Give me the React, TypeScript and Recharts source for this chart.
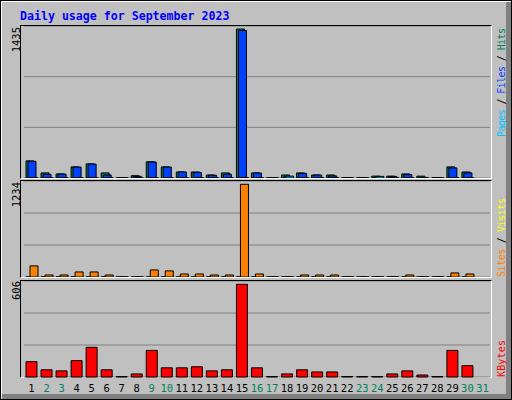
import React from "react"
import { BarChart, Bar, XAxis, YAxis, CartesianGrid } from "recharts"

// daily figures (day 31 has no data yet)
const days = ["1", "2", "3", "4", "5", "6", "7", "8", "9", "10", "11", "12", "13", "14", "15", "16", "17", "18", "19", "20", "21", "22", "23", "24", "25", "26", "27", "28", "29", "30", "31"]
// days drawn in green on the axis
const weekendDays = ["2", "3", "9", "10", "16", "17", "23", "24", "30", "31"]

const hits = [165, 49, 39, 107, 136, 49, 3, 22, 156, 107, 58, 58, 29, 49, 1435, 49, 3, 29, 49, 29, 29, 3, 3, 18, 18, 39, 18, 3, 107, 58, null]
const files = [160, 36, 38, 105, 134, 29, 2, 16, 154, 105, 58, 53, 27, 36, 1420, 48, 2, 10, 44, 29, 20, 2, 2, 4, 15, 33, 6, 2, 97, 49, null]
const pages = [3, 3, 3, 3, 3, 3, 2, 3, 3, 3, 3, 3, 3, 3, 5, 3, 2, 18, 3, 3, 3, 2, 2, 16, 3, 3, 3, 2, 3, 3, null]

const visits = [2, 2, 2, 2, 2, 2, 2, 2, 2, 2, 2, 2, 2, 2, 2, 2, 2, 2, 2, 2, 2, 2, 2, 2, 2, 2, 2, 2, 2, 2, null]
const sites = [148, 27, 27, 67, 67, 27, 3, 3, 94, 81, 40, 40, 27, 27, 1234, 40, 3, 3, 27, 27, 27, 3, 3, 3, 3, 27, 3, 3, 54, 40, null]

const kbytes = [100, 47, 40, 107, 194, 47, 3, 20, 174, 60, 60, 67, 40, 47, 606, 60, 3, 20, 47, 33, 33, 3, 3, 3, 20, 40, 13, 3, 174, 74, null]

const maxHits = 1435
const maxSites = 1234
const maxKbytes = 606

const data = days.map((day, i) => ({
    day,
    hits: hits[i],
    files: files[i],
    pages: pages[i],
    visits: visits[i],
    sites: sites[i],
    kbytes: kbytes[i]
}))

const FONT = "DejaVu Sans Mono"
const margin = { top: 0, right: 1, left: 3, bottom: 0 }

// the bars top out a little under the frame
const top1 = maxHits * 152 / 149
const top2 = maxSites * 96 / 92.7
const top3 = maxKbytes * 96 / 92.7

const DayTick = (props: any) => {
    const { x, y, payload } = props
    const weekend = weekendDays.includes(payload.value)
    return (
        <text x={x} y={y + 15} textAnchor="middle" fontFamily={FONT} fontSize={10.5} fill={weekend ? "#00805C" : "#000"}>
            {payload.value}
        </text>
    )
}

const Box = ({ top, height }: { top: number; height: number }) => (
    <div
        style={{
            position: "absolute",
            left: 20,
            top,
            width: 472,
            height,
            boxSizing: "border-box",
            borderTop: "1px solid #000",
            borderLeft: "1px solid #000",
            borderRight: "1px solid #fff",
            borderBottom: "1px solid #fff"
        }}
    />
)

export default function App() {
    return (
        <div style={{ position: "absolute", left: 0, top: 0, width: 512, height: 400, background: "#C0C0C0", overflow: "hidden" }}>
            <div
                style={{
                    position: "absolute",
                    left: 0,
                    top: 0,
                    width: 512,
                    height: 400,
                    boxSizing: "border-box",
                    border: "1px solid #000",
                    boxShadow: "inset 1px 1px 0 #fff, inset -5px -5px 0 #808080"
                }}
            />

            <Box top={25} height={154} />
            <Box top={180} height={98} />
            <Box top={280} height={98} />

            <div style={{ position: "absolute", left: 21, top: 26 }}>
                <BarChart width={470} height={152} data={data} margin={margin} barGap={-6}>
                    <CartesianGrid vertical={false} stroke="#808080" />
                    <XAxis dataKey="day" hide />
                    <YAxis hide type="number" domain={[0, top1]} ticks={[top1 / 3, (top1 * 2) / 3]} />
                    <Bar dataKey="hits" barSize={8} fill="#00805C" stroke="#000" isAnimationActive={false} />
                    <Bar dataKey="files" barSize={8} fill="#0040FF" stroke="#000" isAnimationActive={false} />
                    <Bar dataKey="pages" barSize={8} fill="#00C0FF" stroke="#000" isAnimationActive={false} />
                </BarChart>
            </div>

            <div style={{ position: "absolute", left: 21, top: 181 }}>
                <BarChart width={470} height={96} data={data} margin={margin} barGap={-4}>
                    <CartesianGrid vertical={false} stroke="#808080" />
                    <XAxis dataKey="day" hide />
                    <YAxis hide type="number" domain={[0, top2]} ticks={[top2 / 3, (top2 * 2) / 3]} />
                    <Bar dataKey="visits" barSize={8} fill="#FFFF00" stroke="#000" isAnimationActive={false} />
                    <Bar dataKey="sites" barSize={8} fill="#FF8000" stroke="#000" isAnimationActive={false} />
                </BarChart>
            </div>

            <div style={{ position: "absolute", left: 21, top: 281 }}>
                <BarChart width={470} height={116} data={data} margin={margin}>
                    <CartesianGrid vertical={false} stroke="#808080" />
                    <XAxis dataKey="day" height={20} interval={0} tickSize={0} tickMargin={0} axisLine={false} tickLine={false} tick={<DayTick />} />
                    <YAxis hide type="number" domain={[0, top3]} ticks={[top3 / 3, (top3 * 2) / 3]} />
                    <Bar dataKey="kbytes" barSize={11} fill="#FF0000" stroke="#000" isAnimationActive={false} />
                </BarChart>
            </div>

            <svg width={512} height={400} style={{ position: "absolute", left: 0, top: 0, pointerEvents: "none" }}>
                <text x={20} y={19.5} fontFamily={FONT} fontWeight="bold" fontSize={11.6} fill="#0000FF">
                    Daily usage for September 2023
                </text>

                <g fontFamily={FONT} fontSize={10.5} fill="#000">
                    <text transform="translate(19.5,27) rotate(-90)" textAnchor="end">{maxHits}</text>
                    <text transform="translate(19.5,182) rotate(-90)" textAnchor="end">{maxSites}</text>
                    <text transform="translate(19.5,281) rotate(-90)" textAnchor="end">{maxKbytes}</text>
                </g>

                <g fontFamily={FONT} fontSize={10}>
                    <text transform="translate(505,137) rotate(-90)" textLength={109} lengthAdjust="spacing">
                        <tspan fill="#00C0FF">Pages</tspan>
                        <tspan fill="#000"> / </tspan>
                        <tspan fill="#0040FF">Files</tspan>
                        <tspan fill="#000"> / </tspan>
                        <tspan fill="#00805C">Hits</tspan>
                    </text>
                    <text transform="translate(505,277) rotate(-90)" textLength={79} lengthAdjust="spacing">
                        <tspan fill="#FF8000">Sites</tspan>
                        <tspan fill="#000"> / </tspan>
                        <tspan fill="#FFFF00">Visits</tspan>
                    </text>
                    <text transform="translate(505,377) rotate(-90)" textLength={37} lengthAdjust="spacing">
                        <tspan fill="#FF0000">KBytes</tspan>
                    </text>
                </g>
            </svg>
        </div>
    )
}
